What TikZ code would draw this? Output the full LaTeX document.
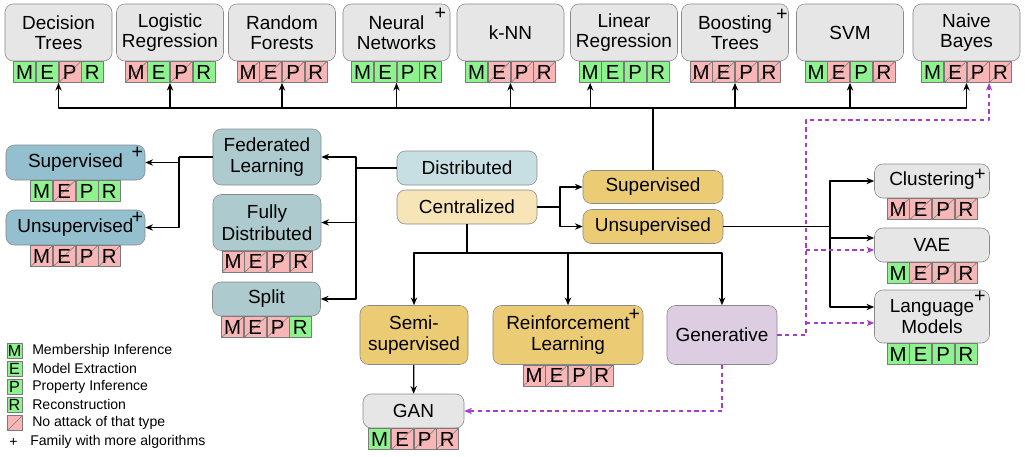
\documentclass[tikz,border=0pt]{standalone}
\usepackage{fontspec}
\setmainfont{Liberation Sans}
\usetikzlibrary{positioning,calc,arrows.meta}
\definecolor{algogray}{HTML}{E6E6E6}
\definecolor{boxline}{HTML}{8A8A8A}
\definecolor{cellline}{HTML}{7A7A7A}
\definecolor{fedteal}{HTML}{ADCACE}
\definecolor{subblue}{HTML}{93BFCF}
\definecolor{distblue}{HTML}{C7DFE3}
\definecolor{cenyellow}{HTML}{F7E4B7}
\definecolor{cenorange}{HTML}{EBCB74}
\definecolor{genlilac}{HTML}{DCCDE3}
\definecolor{atkgreen}{HTML}{8EF28E}
\definecolor{atkred}{HTML}{F8B6B6}
\definecolor{genpurple}{HTML}{A83CC8}
\newcommand{\mepr}[5]{%
\node[#3,anchor=north east] (#1E) at (#1.south) {E};
\node[#2,left=0pt of #1E] (#1M) {M};
\node[#4,anchor=north west] (#1P) at (#1.south) {P};
\node[#5,right=0pt of #1P] (#1R) {R};
\coordinate (#1S) at (#1E.south east);
}
\begin{document}
\begin{tikzpicture}[x=0.025cm,y=-0.025cm,line join=round,>={Stealth[length=5.5pt,width=4.5pt]},
font=\fontsize{13.5}{15.5}\selectfont,
every node/.style={inner sep=0pt},
box/.style={draw=boxline,rounded corners=6pt,align=center,fill=#1},
box/.default=algogray,
algo/.style={box,minimum width=2.675cm,minimum height=1.425cm,font=\fontsize{13.5}{14}\selectfont},
cell/.style={draw=cellline,minimum width=0.55cm,minimum height=0.525cm,font=\fontsize{14.5}{14.5}\selectfont},
yes/.style={cell,fill=atkgreen},
no/.style={cell,fill=atkred,path picture={\draw[cellline,line width=0.4pt] (path picture bounding box.south west)--(path picture bounding box.north east);}},
plus/.style={font=\fontsize{14}{14}\selectfont},
link/.style={line width=0.9pt},
genlink/.style={line width=0.9pt,draw=genpurple,dash pattern=on 3pt off 2.5pt},
legbox/.style={draw=cellline,minimum size=0.375cm,font=\fontsize{11.5}{11.5}\selectfont},
legtext/.style={anchor=west,font=\fontsize{10}{10}\selectfont}]
\useasboundingbox (0,0) rectangle (1025,456);

% algorithm families
\foreach \n/\x/\t in {dt/58.5/Decision\\Trees,lr/170/Logistic\\Regression,rf/282/Random\\Forests,nn/396.5/Neural\\Networks,knn/510.5/k-NN,lin/624/Linear\\Regression,bt/735/Boosting\\Trees,svm/850/SVM,nb/966.5/Naive\\Bayes}
  \node[algo] (\n) at (\x,32.5) {\t};
\mepr{dt}{yes}{yes}{no}{yes}
\mepr{lr}{no}{yes}{no}{yes}
\mepr{rf}{no}{no}{no}{no}
\mepr{nn}{yes}{yes}{yes}{yes}
\mepr{knn}{yes}{no}{no}{no}
\mepr{lin}{yes}{yes}{yes}{yes}
\mepr{bt}{no}{no}{no}{no}
\mepr{svm}{yes}{no}{yes}{no}
\mepr{nb}{yes}{no}{no}{no}
\node[plus] (nnplus) at ($(nn.north east)+(-10,10)$) {+};
\node[plus] (btplus) at ($(bt.north east)+(-7,11)$) {+};

\node[box=subblue,minimum width=3.475cm,minimum height=0.875cm] (supl) at (75.5,162.5) {Supervised};
\node[box=subblue,minimum width=3.475cm,minimum height=0.875cm] (unsl) at (75.5,227.5) {Unsupervised};
\node[box=fedteal,minimum width=2.7cm,minimum height=1.4cm] (fl) at (267,157) {Federated\\Learning};
\node[box=fedteal,minimum width=2.7cm,minimum height=1.4cm] (fd) at (267,222.5) {Fully\\Distributed};
\node[box=fedteal,minimum width=2.7cm,minimum height=0.85cm] (split) at (266.5,299) {Split};
\node[box=distblue,minimum width=3.5cm,minimum height=0.85cm] (dist) at (467,168) {Distributed};
\node[box=cenyellow,minimum width=3.5cm,minimum height=0.85cm] (cen) at (467,207) {Centralized};
\node[box=cenorange,minimum width=3.5cm,minimum height=0.825cm] (sup) at (653,187) {Supervised};
\node[box=cenorange,minimum width=3.5cm,minimum height=0.85cm] (uns) at (653,226.5) {Unsupervised};
\node[box,minimum width=2.875cm,minimum height=0.85cm] (clu) at (932,181) {Clustering};
\node[box,minimum width=2.875cm,minimum height=0.85cm] (vae) at (932,245) {VAE};
\node[box,minimum width=2.875cm,minimum height=1.325cm] (lm) at (932,316.5) {Language\\Models};
\node[box=cenorange,minimum width=2.7cm,minimum height=1.475cm] (semi) at (414,335) {Semi-\\supervised};
\node[box=cenorange,minimum width=3.75cm,minimum height=1.475cm] (rl) at (568,335) {Reinforcement\\Learning};
\node[box=genlilac,minimum width=2.75cm,minimum height=1.475cm] (gen) at (722,335) {Generative};
\node[box,minimum width=2.525cm,minimum height=0.85cm] (gan) at (413.5,411) {GAN};
\mepr{supl}{yes}{no}{yes}{yes}
\mepr{unsl}{no}{no}{no}{no}
\mepr{fd}{no}{no}{no}{no}
\mepr{split}{no}{no}{no}{yes}
\mepr{clu}{no}{no}{no}{no}
\mepr{vae}{yes}{no}{no}{no}
\mepr{lm}{yes}{yes}{yes}{yes}
\mepr{rl}{no}{no}{no}{no}
\mepr{gan}{yes}{no}{no}{no}
\node[plus] (suplplus) at ($(supl.north east)+(-8,8)$) {+};
\node[plus] (unslplus) at ($(unsl.north east)+(-8,8)$) {+};
\node[plus] (cluplus) at ($(clu.north east)+(-10,11)$) {+};
\node[plus] (lmplus) at ($(lm.north east)+(-10,7)$) {+};
\node[plus] (rlplus) at ($(rl.north east)+(-9,10)$) {+};

% legend
\foreach \l/\t [count=\i] in {M/Membership Inference,E/Model Extraction,P/Property Inference,R/Reconstruction}{
  \node[legbox,fill=atkgreen] (leg\l) at (14.5,332.5+18*\i) {\l};
  \node[legtext] (legt\l) at (32,332.5+18*\i) {\t};}
\node[no,legbox] (legno) at (15,423) {};
\node[legtext] (legnot) at (32,423) {No attack of that type};
\node[legtext] (legplus) at (9,442) {+};
\node[legtext] (legfam) at (30,442) {Family with more algorithms};

\coordinate (bus) at (653,108);
\draw[link] (sup.north) -- (bus);
\foreach \n in {dt,lr,rf,nn,knn,bt,svm,nb} \draw[link,->] (bus) -| (\n S);
\draw[link,->] (bus) -| (linM.south);

\coordinate (dk) at (356,168);
\draw[link] (dist.west) -- (dk);
\foreach \n in {fl,fd,split} \draw[link,->] (dk) |- (\n.east);
\coordinate (fk) at (179,157);
\draw[link] (fl.west) -- (fk);
\foreach \n in {supl,unsl} \draw[link,->] (fk) |- (\n.east);

\coordinate (ck) at (560,207);
\draw[link] (cen.east) -- (ck);
\foreach \n in {sup,uns} \draw[link,->] (ck) |- (\n.west);
\coordinate (uk) at (830,226.5);
\coordinate (vaeb) at ($(vae.west)+(0,-7)$);
\coordinate (lmb) at ($(lm.west)+(0,-9.5)$);
\draw[link] (uns.east) -- (uk);
\foreach \n in {clu.west,vaeb,lmb} \draw[link,->] (uk) |- (\n);
\coordinate (cb) at (467,253);
\draw[link] (cen.south) -- (cb);
\foreach \n in {semi,rl,gen} \draw[link,->] (cb) -| (\n.north);
\draw[link,->] (semi) -- (gan);

% generative models
\coordinate (gk) at (806,335);
\coordinate (gtop) at (806,120);
\coordinate (vaep) at ($(vae.west)+(0,5)$);
\coordinate (lmp) at ($(lm.west)+(0,6.5)$);
\draw[genlink,->] (gen.east) -- (gk) -- (gtop) -| (nbR.south west);
\draw[genlink,->] (gk |- vaep) -- (vaep);
\draw[genlink,->] (gk |- lmp) -- (lmp);
\draw[genlink,->] (gen.south) |- (gan.east);
\end{tikzpicture}
\end{document}
